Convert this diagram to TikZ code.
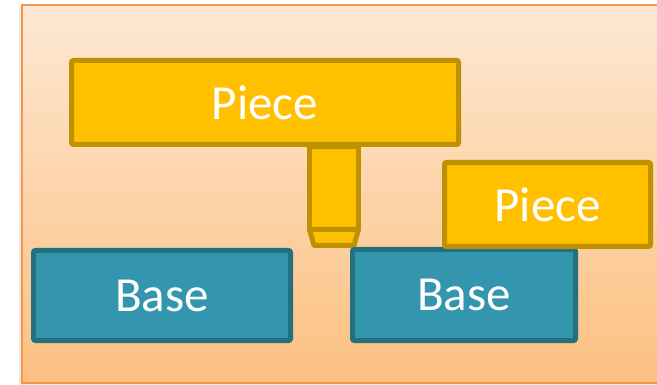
\documentclass[tikz,border=0pt]{standalone}
\usepackage{fontspec}
\setmainfont{Carlito}
\definecolor{bgtop}{RGB}{253,232,212}
\definecolor{bgbot}{RGB}{252,192,128}
\definecolor{bgedge}{RGB}{247,150,70}
\definecolor{piecefill}{RGB}{255,192,0}
\definecolor{pieceedge}{RGB}{191,144,0}
\definecolor{basefill}{RGB}{52,150,174}
\definecolor{baseedge}{RGB}{35,112,128}
\tikzset{
  block/.style={line width=5pt, rounded corners=2pt, inner sep=0pt,
    text=white, font=\fontsize{49}{54}\selectfont},
  piece/.style={block, fill=piecefill, draw=pieceedge},
  base/.style={block, fill=basefill, draw=baseedge},
  part/.style={line width=5pt, line join=round, fill=piecefill, draw=pieceedge},
}
\begin{document}
\begin{tikzpicture}[x=1pt,y=-1pt]
\useasboundingbox (0,0) rectangle (657,385);
% backdrop panel with soft shadow
\begin{scope}
\clip (0,0) rectangle (657,385);
\fill[black!8] (19,7) rectangle (700,385);
\shade[top color=bgtop, bottom color=bgbot, draw=bgedge, line width=2pt]
  (22,5) rectangle (700,383);
\end{scope}
% stem of the upper piece
\draw[part] (309.5,147) rectangle (358.5,229.5);
\draw[part] (309.5,229.5) -- (358.5,229.5) -- (354,245.5) -- (314,245.5) -- cycle;
% bases
\node[base, minimum width=257pt, minimum height=90pt] (base1) at (162,295.5) {Base};
\node[base, minimum width=223pt, minimum height=91pt] (base2) at (464,295) {Base};
% pieces
\node[piece, minimum width=387pt, minimum height=84pt] (piece1) at (265,102.5) {Piece};
\node[piece, minimum width=206pt, minimum height=84pt] (piece2) at (547.5,204.5) {Piece};
\end{tikzpicture}
\end{document}
